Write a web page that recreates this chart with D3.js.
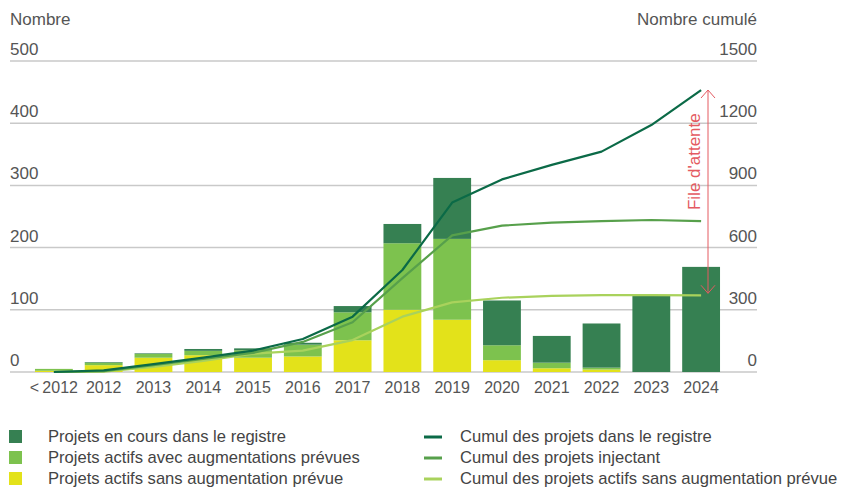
<!DOCTYPE html>
<html>
<head>
<meta charset="utf-8">
<script src="https://cdn.jsdelivr.net/npm/d3@7"></script>
<style>
  body { margin: 0; background: #fff; }
  text { font-family: "Liberation Sans", Arial, sans-serif; }
</style>
</head>
<body>
<div id="chart"></div>
<script>
var categories = ["<\u202F2012", "2012", "2013", "2014", "2015", "2016", "2017", "2018", "2019", "2020", "2021", "2022", "2023", "2024"];

// bars (left axis)
var enCours   = [0, 1, 1, 3, 3, 3, 10, 31, 98, 72, 43, 71, 123, 169];
var avecAugm  = [3, 4, 6, 7, 12, 19, 45, 107, 130, 24, 9, 3, 0, 0];
var sansAugm  = [2, 11, 23, 27, 23, 25, 51, 100, 84, 19, 6, 4, 0, 0];

// lines (right axis, cumulated)
var cumulRegistre = [0, 8, 38, 69, 103, 159, 267, 492, 817, 929, 999, 1063, 1191, 1360];
var cumulInjectant = [0, 4, 33, 63, 92, 145, 240, 453, 659, 706, 720, 728, 733, 728];
var cumulSans = [0, 2, 25, 53, 88, 103, 154, 267, 336, 358, 367, 371, 371, 370];

var leftTicks = [0, 100, 200, 300, 400, 500];
var rightTicks = [0, 300, 600, 900, 1200, 1500];

var barKeys = ["sans", "avec", "cours"];
var barColors = { cours: "#368052", avec: "#7dc24e", sans: "#e3e21a" };

var legendBars = [
    { key: "cours", label: "Projets en cours dans le registre" },
    { key: "avec", label: "Projets actifs avec augmentations prévues" },
    { key: "sans", label: "Projets actifs sans augmentation prévue" }
];
var legendLines = [
    { color: "#0b6a47", label: "Cumul des projets dans le registre" },
    { color: "#57a04b", label: "Cumul des projets injectant" },
    { color: "#a9d25c", label: "Cumul des projets actifs sans augmentation prévue" }
];

(function () {
    var width = 842,
        height = 487;

    var svg = d3.select("#chart")
        .append("svg")
        .attr("width", width)
        .attr("height", height);

    var x = d3.scaleBand()
        .domain(categories)
        .range([29, 726])
        .paddingInner(0.24)
        .paddingOuter(0.12);

    var yLeft = d3.scaleLinear().domain([0, 500]).range([372, 61]);
    var yRight = d3.scaleLinear().domain([0, 1500]).range([372, 61]);

    var textColor = "#555";

    // grid
    svg.selectAll(".grid")
        .data(leftTicks)
        .enter().append("line")
        .attr("class", "grid")
        .attr("x1", 10)
        .attr("x2", 757)
        .attr("y1", function (d) { return yLeft(d); })
        .attr("y2", function (d) { return yLeft(d); })
        .attr("stroke", "#c9c9c9")
        .attr("stroke-width", 1.5);

    // axis labels
    svg.selectAll(".ltick")
        .data(leftTicks)
        .enter().append("text")
        .attr("x", 10)
        .attr("y", function (d) { return yLeft(d) - 6; })
        .attr("font-size", 17)
        .attr("fill", textColor)
        .text(function (d) { return d; });

    svg.selectAll(".rtick")
        .data(rightTicks)
        .enter().append("text")
        .attr("x", 757)
        .attr("y", function (d) { return yRight(d) - 6; })
        .attr("text-anchor", "end")
        .attr("font-size", 17)
        .attr("fill", textColor)
        .text(function (d) { return d; });

    svg.append("text")
        .attr("x", 10).attr("y", 25)
        .attr("font-size", 17)
        .attr("fill", textColor)
        .text("Nombre");

    svg.append("text")
        .attr("x", 757).attr("y", 25)
        .attr("text-anchor", "end")
        .attr("font-size", 17)
        .attr("fill", textColor)
        .text("Nombre cumulé");

    // stacked bars
    var rows = categories.map(function (c, i) {
        return { cat: c, cours: enCours[i], avec: avecAugm[i], sans: sansAugm[i] };
    });
    var stacked = d3.stack().keys(barKeys)(rows);

    svg.selectAll(".layer")
        .data(stacked)
        .enter().append("g")
        .attr("fill", function (d) { return barColors[d.key]; })
        .selectAll("rect")
        .data(function (d) { return d; })
        .enter().append("rect")
        .attr("x", function (d) { return x(d.data.cat); })
        .attr("width", x.bandwidth())
        .attr("y", function (d) { return yLeft(d[1]); })
        .attr("height", function (d) { return yLeft(d[0]) - yLeft(d[1]); });

    // x labels
    svg.selectAll(".xlab")
        .data(categories)
        .enter().append("text")
        .attr("x", function (d) { return x(d) + x.bandwidth() / 2; })
        .attr("y", 393)
        .attr("text-anchor", "middle")
        .attr("font-size", 16)
        .attr("fill", textColor)
        .text(function (d) { return d; });

    // cumul lines
    var line = d3.line()
        .x(function (d, i) { return x(categories[i]) + x.bandwidth() / 2; })
        .y(function (d) { return yRight(d); });

    [[cumulSans, legendLines[2].color], [cumulInjectant, legendLines[1].color], [cumulRegistre, legendLines[0].color]]
        .forEach(function (s) {
            svg.append("path")
                .datum(s[0])
                .attr("d", line)
                .attr("fill", "none")
                .attr("stroke", s[1])
                .attr("stroke-width", 2.2)
                .attr("stroke-linejoin", "round");
        });

    // file d'attente arrow
    var red = "#e45a61";
    var last = categories.length - 1;
    var ax = 708,
        aTop = yRight(cumulRegistre[last]),
        aBot = yRight(cumulSans[last]) - 2;
    svg.append("line")
        .attr("x1", ax).attr("x2", ax)
        .attr("y1", aTop).attr("y2", aBot)
        .attr("stroke", red).attr("stroke-width", 1);
    svg.append("path")
        .attr("d", "M" + (ax - 7) + "," + (aTop + 8) + "L" + ax + "," + aTop + "L" + (ax + 7) + "," + (aTop + 8))
        .attr("fill", "none").attr("stroke", red).attr("stroke-width", 1);
    svg.append("path")
        .attr("d", "M" + (ax - 7) + "," + (aBot - 8) + "L" + ax + "," + aBot + "L" + (ax + 7) + "," + (aBot - 8))
        .attr("fill", "none").attr("stroke", red).attr("stroke-width", 1);
    svg.append("text")
        .attr("transform", "translate(700," + ((aTop + aBot) / 2 - 30) + ") rotate(-90)")
        .attr("text-anchor", "middle")
        .attr("font-size", 17)
        .attr("fill", red)
        .text("File d'attente");

    // legend
    var lg = svg.append("g");
    lg.selectAll(".lb")
        .data(legendBars)
        .enter().append("rect")
        .attr("x", 9)
        .attr("y", function (d, i) { return 430 + i * 21; })
        .attr("width", 13)
        .attr("height", 13)
        .attr("fill", function (d) { return barColors[d.key]; });
    lg.selectAll(".lbt")
        .data(legendBars)
        .enter().append("text")
        .attr("x", 48)
        .attr("y", function (d, i) { return 442 + i * 21; })
        .attr("font-size", 16.6)
        .attr("fill", "#444")
        .text(function (d) { return d.label; });

    lg.selectAll(".ll")
        .data(legendLines)
        .enter().append("line")
        .attr("x1", 424)
        .attr("x2", 442)
        .attr("y1", function (d, i) { return 437 + i * 21; })
        .attr("y2", function (d, i) { return 437 + i * 21; })
        .attr("stroke", function (d) { return d.color; })
        .attr("stroke-width", 3);
    lg.selectAll(".llt")
        .data(legendLines)
        .enter().append("text")
        .attr("x", 460)
        .attr("y", function (d, i) { return 442 + i * 21; })
        .attr("font-size", 16.6)
        .attr("fill", "#444")
        .text(function (d) { return d.label; });
})();
</script>
</body>
</html>
